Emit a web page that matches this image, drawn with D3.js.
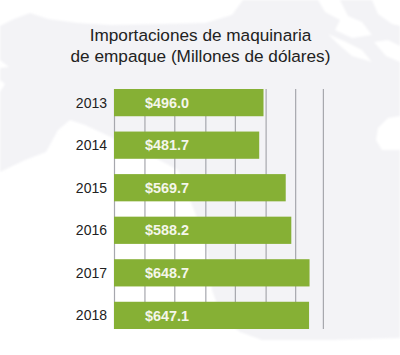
<!DOCTYPE html>
<html>
<head>
<meta charset="utf-8">
<script src="https://d3js.org/d3.v7.min.js"></script>
<style>
  html, body { margin: 0; padding: 0; background: #fff; }
  svg { display: block; }
</style>
</head>
<body>
<div id="chart"></div>
<script>
// Values
const years = ["2013", "2014", "2015", "2016", "2017", "2018"];
const imports = [496.0, 481.7, 569.7, 588.2, 648.7, 647.1];
const gridValues = [0, 101, 200, 303, 401, 503, 601, 693];
const titleLines = ["Importaciones de maquinaria", "de empaque (Millones de dólares)"];

// Faint map behind the chart
const landShape = [[0,26],[14,19],[30,13],[48,19],[78,23],[110,25],[160,24],[205,23],[232,15],[243,0],[400,0],[400,338],[330,340],[262,340],[240,332],[222,318],[212,290],[207,250],[196,215],[178,170],[150,155],[113,138],[85,125],[70,120],[58,130],[46,152],[25,160],[0,172],[0,92],[5,84],[0,80],[0,68],[9,67],[0,60]];
const whiteShapes = [
    [[400,116],[388,118],[378,128],[376,140],[382,150],[400,150]],
    [[318,0],[325,12],[340,20],[335,30],[352,38],[372,35],[362,22],[348,16],[340,0]],
    [[372,0],[378,14],[392,24],[400,26],[400,0]],
    [[328,34],[338,44],[352,56],[372,62],[362,50],[346,42]],
    [[374,42],[386,56],[400,62],[400,46],[388,40]]
];

const width = 400, height = 355;

const svg = d3.select("#chart")
    .append("svg")
    .attr("width", width)
    .attr("height", height);

// Slight blur so the map edges are soft like the reference
svg.append("defs")
    .append("filter")
    .attr("id", "soft")
    .append("feGaussianBlur")
    .attr("stdDeviation", 1);

// Background
const line = d3.line().curve(d3.curveLinearClosed);
const bg = svg.append("g").attr("filter", "url(#soft)");
bg.append("path").attr("d", line(landShape)).attr("fill", "#f3f3f6");
bg.selectAll(".hole")
    .data(whiteShapes)
    .join("path")
    .attr("class", "hole")
    .attr("d", d => line(d))
    .attr("fill", "#fff");

// Scales
const xScale = d3.scaleLinear()
    .domain([0, 700])
    .range([114, 325]);

const yScale = d3.scaleBand()
    .domain(years)
    .range([89, 329])
    .paddingInner(0.36);

// Gridlines
svg.append("g")
    .selectAll("line")
    .data(gridValues)
    .join("line")
    .attr("x1", d => xScale(d) + 0.5)
    .attr("x2", d => xScale(d) + 0.5)
    .attr("y1", 89)
    .attr("y2", 329)
    .attr("stroke", "#a6a7ad")
    .attr("stroke-width", 1.2);

// Bars
svg.append("g")
    .selectAll("rect")
    .data(imports)
    .join("rect")
    .attr("x", xScale(0))
    .attr("y", (d, i) => yScale(years[i]))
    .attr("width", d => xScale(d) - xScale(0))
    .attr("height", yScale.bandwidth())
    .attr("fill", "#86b035");

// Value labels
svg.append("g")
    .selectAll("text")
    .data(imports)
    .join("text")
    .attr("x", 145)
    .attr("y", (d, i) => yScale(years[i]) + yScale.bandwidth() / 2)
    .attr("dy", ".36em")
    .attr("fill", "#f4f6ea")
    .style("font-family", "'Liberation Sans', Arial, sans-serif")
    .style("font-weight", 700)
    .style("font-size", "14.4px")
    .text(d => "$" + d3.format(".1f")(d));

// Year labels
svg.append("g")
    .selectAll("text")
    .data(years)
    .join("text")
    .attr("x", 107)
    .attr("y", d => yScale(d) + yScale.bandwidth() / 2)
    .attr("dy", ".36em")
    .attr("text-anchor", "end")
    .attr("fill", "#222")
    .style("font-family", "'Liberation Sans', Arial, sans-serif")
    .style("font-size", "14px")
    .text(d => d);

// Title
svg.append("g")
    .selectAll("text")
    .data(titleLines)
    .join("text")
    .attr("x", 200.5)
    .attr("y", (d, i) => 40.5 + i * 21)
    .attr("text-anchor", "middle")
    .attr("fill", "#222")
    .style("font-family", "'Liberation Sans', Arial, sans-serif")
    .style("font-size", "17.2px")
    .text(d => d);
</script>
</body>
</html>
